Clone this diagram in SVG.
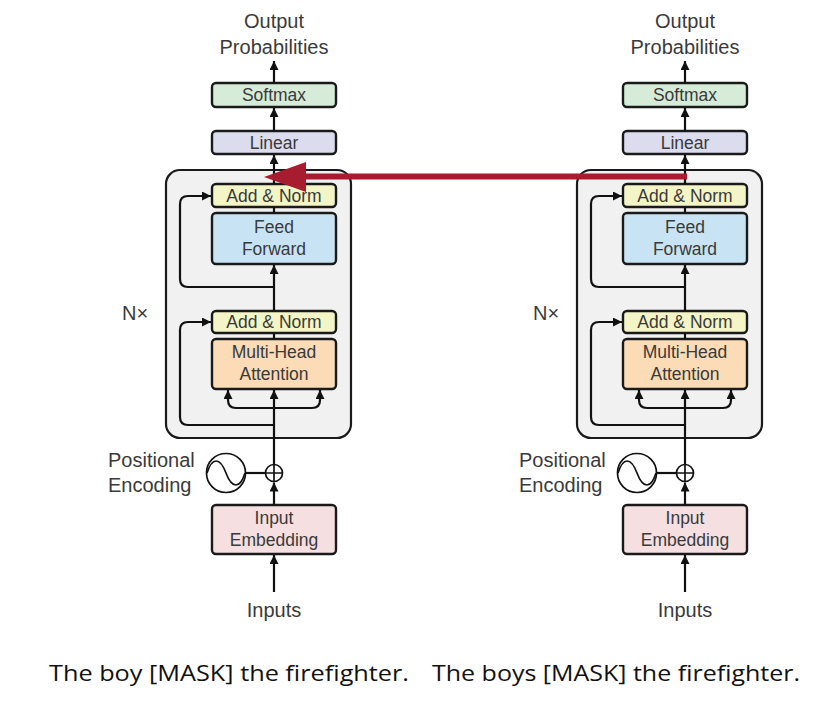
<svg xmlns="http://www.w3.org/2000/svg" width="824" height="704" viewBox="0 0 824 704">
<style>
.lbl{font-family:"Liberation Sans",Arial,sans-serif;font-size:17.5px;fill:#3a3a3a;text-anchor:middle}
.big{font-family:"Liberation Sans",Arial,sans-serif;font-size:20px;fill:#3a3a3a;text-anchor:middle}
.side{font-family:"Liberation Sans",Arial,sans-serif;font-size:20px;fill:#3a3a3a}
.box{stroke:#1a1a1a;stroke-width:2.4}
.block{fill:#f1f1f1;stroke:#1a1a1a;stroke-width:2.2}
.soft{fill:#d6ecd8}.lin{fill:#dcdcef}.add{fill:#f3f5c6}.ff{fill:#c8e4f4}.mha{fill:#fbdcb6}.emb{fill:#f5dfe1}
.ln{fill:none;stroke:#111;stroke-width:2.2}
.cap{font-family:"Open Sans","Liberation Sans",sans-serif;font-size:22px;fill:#111}
</style>
<defs>
<marker id="ah" markerWidth="9" markerHeight="9" refX="9" refY="4.5" orient="auto" markerUnits="userSpaceOnUse">
<path d="M0,0 L9,4.5 L0,9 z" fill="#111"/>
</marker>
</defs>

<!-- LEFT column -->
<g id="L-output"><text class="big" x="274" y="28">Output</text><text class="big" x="274" y="54">Probabilities</text></g>
<g id="L-block"><rect class="block" x="166" y="170" width="185" height="268" rx="14"/></g>
<g id="L-softmax"><rect class="box soft" x="212" y="83" width="124" height="24" rx="4"/><text class="lbl" x="274" y="101">Softmax</text></g>
<g id="L-linear"><rect class="box lin" x="212" y="131" width="124" height="23" rx="4"/><text class="lbl" x="274" y="148.5">Linear</text></g>
<g id="L-addnorm2"><rect class="box add" x="212" y="184" width="124" height="23" rx="4"/><text class="lbl" x="274" y="201.5">Add &amp; Norm</text></g>
<g id="L-ff"><rect class="box ff" x="212" y="213" width="124" height="51" rx="4"/><text class="lbl" x="274" y="233">Feed</text><text class="lbl" x="274" y="255">Forward</text></g>
<g id="L-addnorm1"><rect class="box add" x="212" y="311" width="124" height="22" rx="4"/><text class="lbl" x="274" y="328">Add &amp; Norm</text></g>
<g id="L-mha"><rect class="box mha" x="212" y="339" width="124" height="50" rx="4"/><text class="lbl" x="274" y="358">Multi-Head</text><text class="lbl" x="274" y="380">Attention</text></g>
<g id="L-emb"><rect class="box emb" x="212" y="505" width="124" height="49" rx="4"/><text class="lbl" x="274" y="524">Input</text><text class="lbl" x="274" y="546">Embedding</text></g>
<g id="L-pe"><circle cx="226" cy="473" r="19.5" fill="#fff" stroke="#111" stroke-width="1.7"/><path d="M207,473 C212,457 220,457 226,473 S240,489 245,473" fill="none" stroke="#111" stroke-width="1.7"/><text class="side" x="108" y="467">Positional</text><text class="side" x="108" y="492">Encoding</text></g>
<g id="L-plus"><circle cx="274" cy="473" r="8.5" fill="#fff" stroke="#111" stroke-width="1.7"/><path d="M265.5,473 H282.5 M274,464.5 V481.5" stroke="#111" stroke-width="1.7"/></g>
<g id="L-nx"><text class="side" x="122" y="320">N×</text></g>
<g id="L-inputs"><text class="big" x="274" y="617">Inputs</text></g>

<!-- RIGHT column -->
<g id="R-output" transform="translate(411,0)"><text class="big" x="274" y="28">Output</text><text class="big" x="274" y="54">Probabilities</text></g>
<g id="R-block" transform="translate(411,0)"><rect class="block" x="166" y="170" width="185" height="268" rx="14"/></g>
<g id="R-softmax" transform="translate(411,0)"><rect class="box soft" x="212" y="83" width="124" height="24" rx="4"/><text class="lbl" x="274" y="101">Softmax</text></g>
<g id="R-linear" transform="translate(411,0)"><rect class="box lin" x="212" y="131" width="124" height="23" rx="4"/><text class="lbl" x="274" y="148.5">Linear</text></g>
<g id="R-addnorm2" transform="translate(411,0)"><rect class="box add" x="212" y="184" width="124" height="23" rx="4"/><text class="lbl" x="274" y="201.5">Add &amp; Norm</text></g>
<g id="R-ff" transform="translate(411,0)"><rect class="box ff" x="212" y="213" width="124" height="51" rx="4"/><text class="lbl" x="274" y="233">Feed</text><text class="lbl" x="274" y="255">Forward</text></g>
<g id="R-addnorm1" transform="translate(411,0)"><rect class="box add" x="212" y="311" width="124" height="22" rx="4"/><text class="lbl" x="274" y="328">Add &amp; Norm</text></g>
<g id="R-mha" transform="translate(411,0)"><rect class="box mha" x="212" y="339" width="124" height="50" rx="4"/><text class="lbl" x="274" y="358">Multi-Head</text><text class="lbl" x="274" y="380">Attention</text></g>
<g id="R-emb" transform="translate(411,0)"><rect class="box emb" x="212" y="505" width="124" height="49" rx="4"/><text class="lbl" x="274" y="524">Input</text><text class="lbl" x="274" y="546">Embedding</text></g>
<g id="R-pe" transform="translate(411,0)"><circle cx="226" cy="473" r="19.5" fill="#fff" stroke="#111" stroke-width="1.7"/><path d="M207,473 C212,457 220,457 226,473 S240,489 245,473" fill="none" stroke="#111" stroke-width="1.7"/><text class="side" x="108" y="467">Positional</text><text class="side" x="108" y="492">Encoding</text></g>
<g id="R-plus" transform="translate(411,0)"><circle cx="274" cy="473" r="8.5" fill="#fff" stroke="#111" stroke-width="1.7"/><path d="M265.5,473 H282.5 M274,464.5 V481.5" stroke="#111" stroke-width="1.7"/></g>
<g id="R-nx" transform="translate(411,0)"><text class="side" x="122" y="320">N×</text></g>
<g id="R-inputs" transform="translate(411,0)"><text class="big" x="274" y="617">Inputs</text></g>

<g id="connectors">
 <g id="L-conn">
  <path class="ln" d="M274,83 V61" marker-end="url(#ah)"/>
  <path class="ln" d="M274,131 V108" marker-end="url(#ah)"/>
  <path class="ln" d="M274,184 V155" marker-end="url(#ah)"/>
  <path class="ln" d="M274,207 V213"/>
  <path class="ln" d="M274,311 V265" marker-end="url(#ah)"/>
  <path class="ln" d="M274,333 V339"/>
  <path class="ln" d="M274,287 H188 Q180,287 180,279 V204 Q180,196 188,196 H211" marker-end="url(#ah)"/>
  <path class="ln" d="M274,464.5 V390" marker-end="url(#ah)"/>
  <path class="ln" d="M274,425 H188 Q180,425 180,417 V330 Q180,322 188,322 H211" marker-end="url(#ah)"/>
  <path class="ln" d="M274,408 H236 Q228,408 228,400 V390" marker-end="url(#ah)"/>
  <path class="ln" d="M274,408 H312 Q320,408 320,400 V390" marker-end="url(#ah)"/>
  <path class="ln" d="M245.5,473 H265.5"/>
  <path class="ln" d="M274,505 V482.5" marker-end="url(#ah)"/>
  <path class="ln" d="M274,592 V555" marker-end="url(#ah)"/>
 </g>
 <g id="R-conn" transform="translate(411,0)">
  <path class="ln" d="M274,83 V61" marker-end="url(#ah)"/>
  <path class="ln" d="M274,131 V108" marker-end="url(#ah)"/>
  <path class="ln" d="M274,184 V155" marker-end="url(#ah)"/>
  <path class="ln" d="M274,207 V213"/>
  <path class="ln" d="M274,311 V265" marker-end="url(#ah)"/>
  <path class="ln" d="M274,333 V339"/>
  <path class="ln" d="M274,287 H188 Q180,287 180,279 V204 Q180,196 188,196 H211" marker-end="url(#ah)"/>
  <path class="ln" d="M274,464.5 V390" marker-end="url(#ah)"/>
  <path class="ln" d="M274,425 H188 Q180,425 180,417 V330 Q180,322 188,322 H211" marker-end="url(#ah)"/>
  <path class="ln" d="M274,408 H236 Q228,408 228,400 V390" marker-end="url(#ah)"/>
  <path class="ln" d="M274,408 H312 Q320,408 320,400 V390" marker-end="url(#ah)"/>
  <path class="ln" d="M245.5,473 H265.5"/>
  <path class="ln" d="M274,505 V482.5" marker-end="url(#ah)"/>
  <path class="ln" d="M274,592 V555" marker-end="url(#ah)"/>
 </g>
 <g id="red-arrow">
  <path d="M687,176.5 H300" fill="none" stroke="#a81c30" stroke-width="6"/>
  <polygon points="264,177 306,162 306,192" fill="#a81c30"/>
 </g>
</g>

<text class="cap" x="49" y="681" textLength="360" lengthAdjust="spacingAndGlyphs">The boy [MASK] the firefighter.</text>
<text class="cap" x="432" y="681" textLength="368" lengthAdjust="spacingAndGlyphs">The boys [MASK] the firefighter.</text>
</svg>
